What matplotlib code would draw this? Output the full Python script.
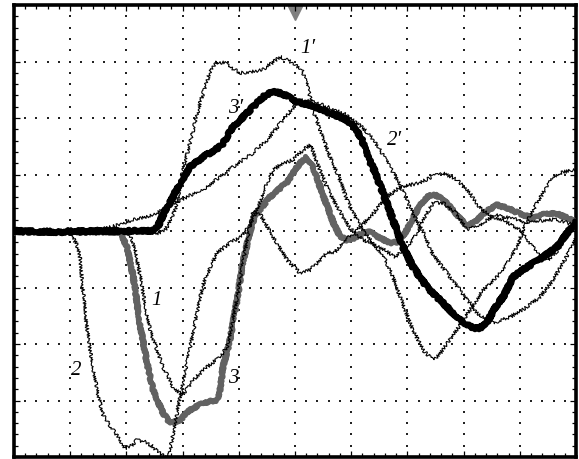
import numpy as np
import matplotlib
matplotlib.use("Agg")
import matplotlib.pyplot as plt

# ---- data (time in samples, amplitude in counts; 10 x 8 divisions) ----
t3p = [0, 46, 86, 126, 138, 144, 149, 156, 166, 176, 189, 201, 208, 219, 236, 249, 254, 259, 266, 273, 283, 296,
       316, 333, 341, 348, 353, 361, 369, 379, 389, 399, 413, 429, 446, 459, 466, 473, 483, 489, 499, 513,
       529, 543, 553, 562]
v3p = [0, -1, 0, 0, 0, 5, 16, 28, 48, 64, 74, 81, 86, 104, 121, 134, 137, 139, 138, 135, 129, 126,
       118, 111, 103, 91, 76, 59, 38, 11, -16, -36, -56, -72, -89, -97, -97, -91, -74, -66, -46, -36,
       -26, -16, -2, 9]

t3 = [0, 104, 108, 113, 119, 126, 133, 139, 149, 156, 166, 176, 189, 203, 206, 209, 216, 223, 229,
      236, 241, 248, 256, 273, 286, 292, 299, 309, 319, 326, 333, 341, 348, 356, 366, 376, 384, 391,
      398, 406, 414, 421, 429, 436, 446, 453, 461, 471, 483, 496, 506, 519, 531, 541, 551, 562]
v3 = [-1, -1, -4, -17, -44, -94, -132, -159, -182, -192, -189, -179, -172, -169, -159, -136, -109, -69, -31,
      -1, 16, 24, 34, 49, 68, 74, 64, 36, 9, -5, -9, -7, -2, -1, -7, -12, -11, -2,
      11, 26, 35, 36, 32, 24, 13, 5, 9, 19, 26, 22, 17, 13, 17, 18, 14, 9]

t1 = [0, 112, 116, 121, 126, 131, 136, 143, 149, 159, 168, 174, 179, 193, 206, 213, 218, 223, 229,
      234, 239, 246, 259, 273, 286, 296, 306, 313, 321, 329, 343, 356, 373, 386, 406, 419, 429, 443,
      456, 466, 476, 489, 506, 516, 526, 534, 544, 553, 562]
v1 = [0, 0, -5, -19, -44, -74, -99, -119, -136, -156, -164, -157, -149, -136, -126, -116, -94, -67, -31,
      -4, 19, 17, -6, -29, -42, -39, -29, -22, -21, -11, 1, 14, 34, 44, 48, 55, 58, 51,
      38, 23, 15, 11, 1, -12, -24, -29, -19, -4, 9]

t2 = [0, 54, 58, 63, 66, 69, 72, 76, 83, 89, 99, 106, 111, 116, 123, 131, 138, 144, 151, 154, 158,
      163, 173, 183, 189, 196, 203, 216, 229, 236, 243, 249, 253, 259, 269, 279, 286, 293, 297,
      303, 313, 323, 336, 349, 366, 381, 393, 403, 409, 419, 429, 441, 453, 466, 481, 496, 511,
      526, 541, 551, 562]
v2 = [0, 0, -5, -14, -27, -59, -89, -119, -159, -184, -199, -209, -217, -216, -209, -211, -215, -221, -226, -229, -209,
      -182, -132, -82, -54, -37, -22, -12, -4, 6, 21, 38, 48, 61, 68, 71, 78, 84, 86,
      68, 44, 24, 3, -9, -16, -26, -16, -2, 11, 28, 28, 19, 1, 6, 16, 13, 9,
      10, 12, 9, 5]

t1p = [0, 144, 151, 156, 163, 169, 176, 186, 196, 203, 211, 218, 226, 236, 248, 258, 266, 274, 281,
       288, 294, 299, 306, 316, 326, 333, 343, 353, 369, 379, 389, 399, 409, 419, 426, 439, 448, 458,
       469, 483, 493, 503, 509, 519, 529, 539, 549, 562]
v1p = [-2, -2, 1, 9, 26, 61, 88, 128, 159, 169, 168, 163, 158, 159, 161, 168, 174, 171, 166,
       161, 143, 121, 101, 74, 51, 31, 11, -5, -24, -46, -74, -99, -119, -129, -123, -104, -91, -76,
       -59, -46, -32, -16, 1, 21, 38, 54, 59, 61]

t2p = [0, 86, 101, 106, 119, 133, 143, 153, 173, 193, 206, 219, 239, 253, 269, 279, 286, 301, 316,
       331, 341, 349, 358, 366, 376, 386, 393, 399, 409, 419, 433, 446, 456, 463, 479, 496, 513, 526,
       539, 549, 556, 562]
v2p = [1, 2, 5, 7, 11, 14, 18, 24, 34, 44, 54, 64, 78, 91, 111, 123, 131, 129, 123,
       117, 109, 103, 93, 81, 64, 46, 31, 17, -1, -24, -42, -59, -72, -82, -92, -86, -76, -66,
       -49, -32, -19, -7]

labels = ["1\u2032", "3\u2032", "2\u2032", "1", "2", "3"]
label_t = [294, 222, 381, 143, 62, 219]
label_v = [183, 123, 91, -69, -139, -147]

# ---- figure ----
W, H = 579, 459
fig = plt.figure(figsize=(W / 100, H / 100), dpi=100)
ax = fig.add_axes([14 / W, 2 / H, 562 / W, 452 / H])
xmax, ymax = 562.0, 226.0
ax.set_xlim(0, xmax)
ax.set_ylim(-ymax, ymax)

dx = xmax / 10
dy = 2 * ymax / 8

# dotted graticule
gx, gy = [], []
for k in range(1, 10):
    ys = np.arange(-ymax, ymax + 0.1, dy / 5)
    gx += [k * dx] * len(ys)
    gy += list(ys)
for j in range(-3, 4):
    xs = np.arange(0, xmax + 0.1, dx / 5)
    gx += list(xs)
    gy += [j * dy] * len(xs)
ax.scatter(gx, gy, s=1.3, marker='s', color='#222222', linewidths=0, zorder=1)

ax.set_xticks([k * dx for k in range(11)])
ax.set_xticks(np.arange(0, xmax + 0.1, dx / 5), minor=True)
ax.set_yticks([j * dy - ymax for j in range(9)])
ax.set_yticks(np.arange(-ymax, ymax + 0.1, dy / 5), minor=True)
ax.tick_params(which='both', direction='in', top=True, right=True,
               labelbottom=False, labelleft=False, width=0.9, color='black')
ax.tick_params(which='major', length=4)
ax.tick_params(which='minor', length=3)
for s in ax.spines.values():
    s.set_linewidth(2.6)

# traces
gray = '#626262'
l3, = ax.plot(t3, v3, color=gray, lw=3.8, solid_capstyle='round',
              solid_joinstyle='round', zorder=3)
l3p, = ax.plot(t3p, v3p, color='black', lw=4.2, solid_capstyle='round',
               solid_joinstyle='round', zorder=4)
thin = []
for t, v in [(t1, v1), (t2, v2), (t1p, v1p), (t2p, v2p)]:
    ln, = ax.plot(t, v, color='black', lw=0.8, zorder=5)
    thin.append(ln)
for ln in thin:
    ln.set_sketch_params(scale=1.7, length=1.5, randomness=2.0)
l3.set_sketch_params(scale=1.2, length=1.5, randomness=2.0)
l3p.set_sketch_params(scale=1.4, length=1.5, randomness=2.0)

# trigger marker
ax.plot([281], [0.982], marker='v', markersize=10, color='#808080',
        transform=ax.get_xaxis_transform(), clip_on=False, zorder=1.5)

for s, x, y in zip(labels, label_t, label_v):
    ax.text(x, y, s, fontsize=15, style='italic',
            family=['Liberation Serif', 'DejaVu Serif'],
            ha='center', va='center', zorder=7)

fig.savefig('out.png', dpi=100)
